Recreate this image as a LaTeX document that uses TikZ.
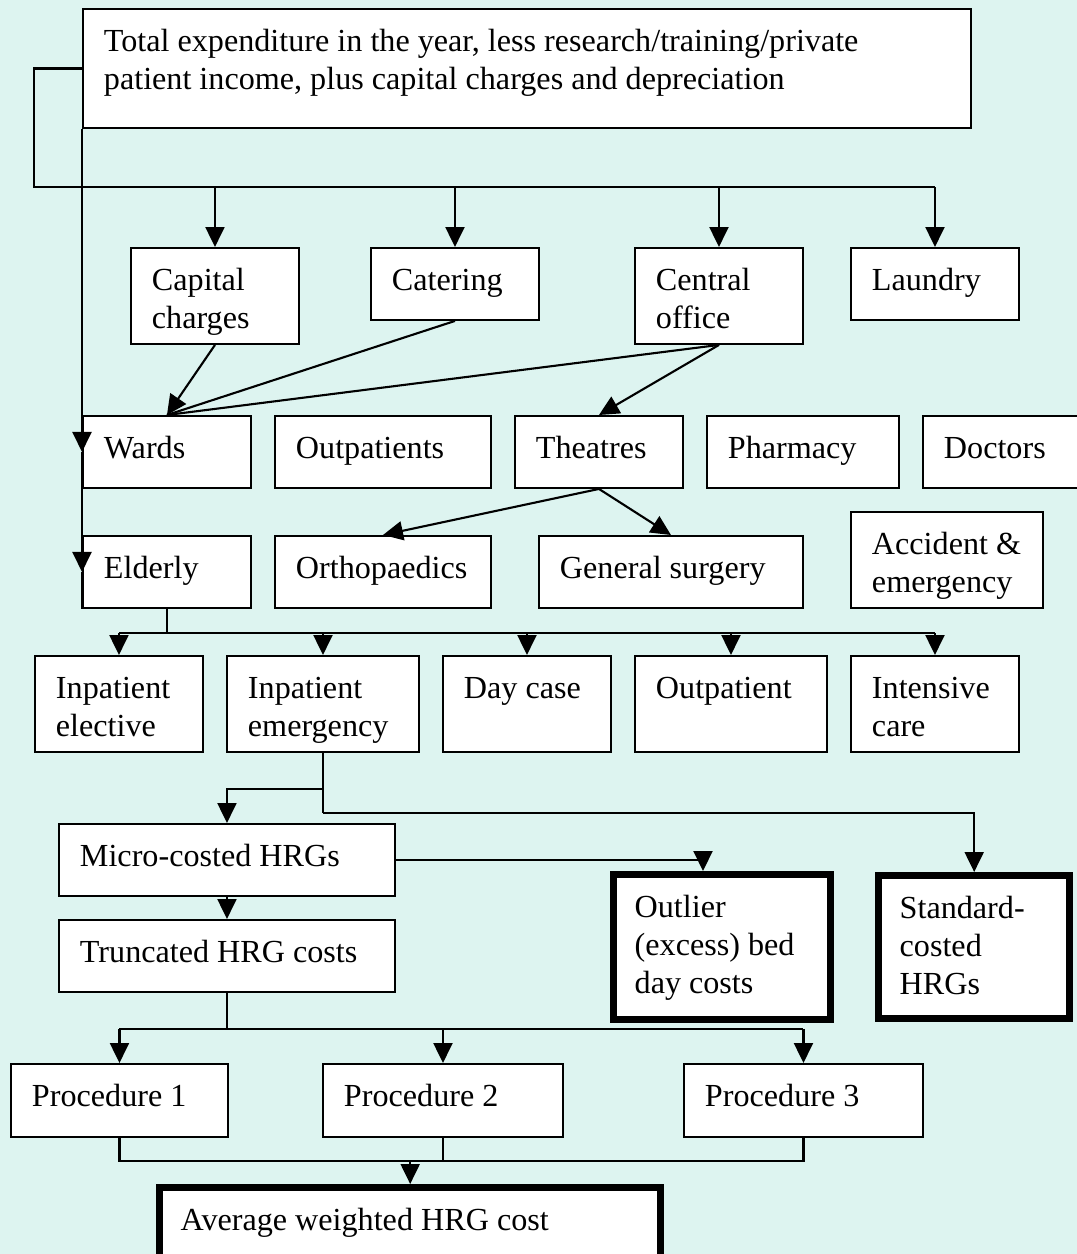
\documentclass[tikz,border=0pt]{standalone}
\usepackage{fontspec}
\setmainfont{Liberation Serif}
\usepackage{tikz}
\usetikzlibrary{arrows.meta}

\definecolor{bgcyan}{RGB}{221,244,240}
\newlength{\pxu}
\setlength{\pxu}{0.02cm}

\tikzset{
  block/.style={draw, fill=white, line width=1.1pt, inner sep=0pt, anchor=north west,
    font=\fontsize{18.3}{21.5}\selectfont},
  heavy/.style={line width=4.2pt},
  link/.style={line width=1.2pt},
  arr/.style={link, -{Triangle[length=0.4cm,width=0.38cm]}}
}
% box: [style] name, x, y, width, height, text
\newcommand{\block}[7][]{%
  \node[block,#1] (#2) at (#3,#4) {\parbox[t][#6\pxu][t]{#5\pxu}{\raggedright\leftskip=21\pxu\rule{0pt}{43\pxu}#7}};}

\begin{document}
\begin{tikzpicture}[x=0.02cm,y=-0.02cm]
    \useasboundingbox (0,0) rectangle (1077,1254);
    \fill[bgcyan] (0,0) rectangle (1077,1254);
    \clip (0,0) rectangle (1077,1254);

    % draw boxes
    \block{top}{82}{8}{888}{119}{Total expenditure in the year, less research/training/private\\patient income, plus capital charges and depreciation}
    \block{capital}{130}{247}{168}{96}{Capital\\charges}
    \block{catering}{370}{247}{168}{72}{Catering}
    \block{central}{634}{247}{168}{96}{Central\\office}
    \block{laundry}{850}{247}{168}{72}{Laundry}

    \block{wards}{82}{415}{168}{72}{Wards}
    \block{outpatients}{274}{415}{216}{72}{Outpatients}
    \block{theatres}{514}{415}{168}{72}{Theatres}
    \block{pharmacy}{706}{415}{192}{72}{Pharmacy}
    \block{doctors}{922}{415}{170}{72}{Doctors}

    \block{elderly}{82}{535}{168}{72}{Elderly}
    \block{ortho}{274}{535}{216}{72}{Orthopaedics}
    \block{gensurg}{538}{535}{264}{72}{General surgery}
    \block{accident}{850}{511}{192}{96}{Accident \&\\emergency}

    \block{inpel}{34}{655}{168}{96}{Inpatient\\elective}
    \block{inpem}{226}{655}{192}{96}{Inpatient\\emergency}
    \block{daycase}{442}{655}{168}{96}{Day case}
    \block{outpt}{634}{655}{192}{96}{Outpatient}
    \block{intens}{850}{655}{168}{96}{Intensive\\care}

    \block{micro}{58}{823}{336}{72}{Micro-costed HRGs}
    \block{trunc}{58}{919}{336}{72}{Truncated HRG costs}
    \block[heavy]{outlier}{610}{871}{217}{145}{Outlier\\(excess) bed\\day costs}
    \block[heavy]{standard}{875}{872}{191}{143}{Standard-\\costed\\HRGs}

    \block{proc1}{10}{1063}{217}{73}{Procedure 1}
    \block{proc2}{322}{1063}{240}{73}{Procedure 2}
    \block{proc3}{683}{1063}{239}{73}{Procedure 3}
    \block[heavy]{avg}{156}{1184}{501}{80}{Average weighted HRG cost}

    % top box to first row
    \coordinate (bus1) at (34,187);
    \draw[link, line width=1.6pt] (top.west) -| (bus1) -- (bus1 -| laundry.north);
    \foreach \n in {capital,catering,central,laundry}
        \draw[arr] (bus1 -| \n.north) -- (\n.north);

    % left side line down to wards and elderly
    \draw[arr] (top.south west) -- (wards.west);
    \draw[arr] (wards.west) -- (elderly.west);
    \draw[link] (elderly.west) -- (elderly.south west);

    % overheads into wards and theatres
    \draw[arr] (capital.south) -- (wards.north);
    \draw[link] (catering.south) -- (wards.north);
    \draw[link] (central.south) -- (wards.north);
    \draw[arr] (central.south) -- (theatres.north);
    \draw[arr] (theatres.south) -- (ortho.north);
    \draw[arr] (theatres.south) -- (gensurg.north);

    % elderly to patient types
    \draw[link] (elderly.south) -- ++(0,24) coordinate (bus2);
    \draw[link] (bus2 -| inpel.north) -- (bus2 -| intens.north);
    \foreach \n in {inpel,inpem,daycase,outpt,intens}
        \draw[arr] (bus2 -| \n.north) -- (\n.north);

    % inpatient emergency split
    \draw[link] (inpem.south) -- ++(0,36) coordinate (split1) -- ++(0,24) coordinate (split2);
    \draw[arr] (split1) -| (micro.north);
    \draw[arr] (split2) -| (standard.north);
    \coordinate (outin) at (703,871);
    \draw[arr] (micro.east) -| (outin);
    \draw[arr] (micro.south) -- (trunc.north);

    % truncated costs to procedures
    \draw[link] (trunc.south) -- ++(0,36) coordinate (bus3);
    \draw[link] (bus3 -| proc1.north) -- (bus3 -| proc3.north);
    \foreach \n in {proc1,proc2,proc3}
        \draw[arr] (bus3 -| \n.north) -- (\n.north);

    % procedures to average
    \draw[link] (proc1.south) -- ++(0,23) coordinate (bus4) -| (proc3.south);
    \draw[link] (proc2.south) -- (proc2.south |- bus4);
    \draw[arr] (bus4 -| avg.north) -- (avg.north);
\end{tikzpicture}
\end{document}
